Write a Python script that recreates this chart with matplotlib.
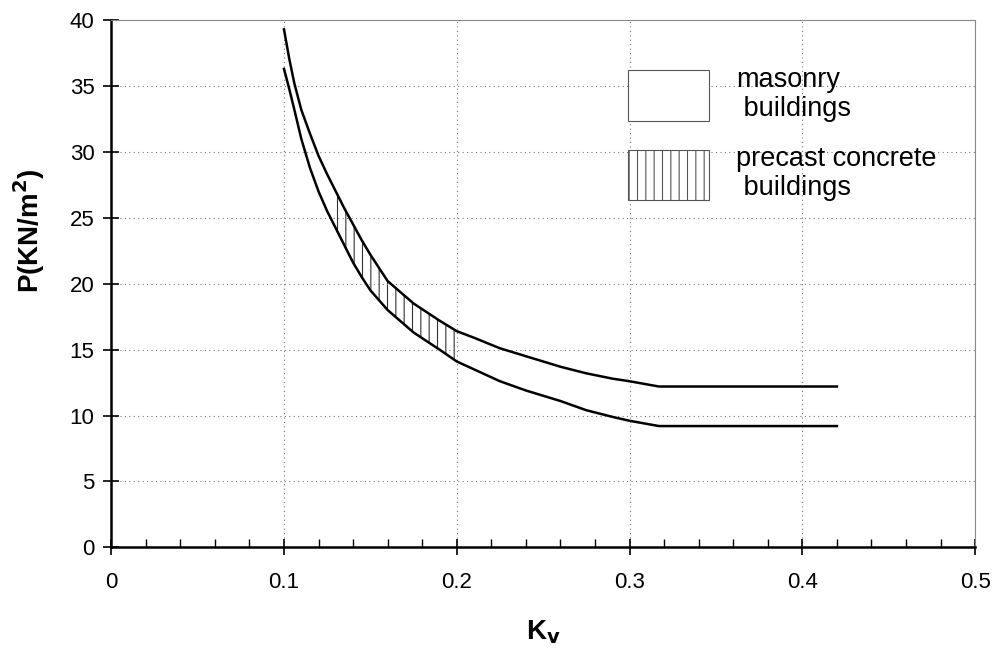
import numpy as np
import matplotlib
matplotlib.use("Agg")
import matplotlib.pyplot as plt
from matplotlib.patches import Patch
from matplotlib.ticker import MultipleLocator

plt.rcParams['font.family'] = ['Liberation Sans', 'DejaVu Sans']
plt.rcParams['hatch.linewidth'] = 0.8

# values
kv = [0.1, 0.103, 0.106, 0.108, 0.11, 0.115, 0.12, 0.125, 0.13, 0.135, 0.14, 0.145,
      0.15, 0.16, 0.175, 0.19, 0.2, 0.21, 0.225, 0.24, 0.25, 0.26, 0.275, 0.29,
      0.3, 0.317, 0.42]
p_upper = [39.3, 37.1, 35.2, 34.2, 33.2, 31.4, 29.7, 28.3, 27.0, 25.7, 24.5, 23.3,
           22.2, 20.2, 18.5, 17.2, 16.4, 15.9, 15.1, 14.5, 14.1, 13.7, 13.2, 12.8,
           12.6, 12.2, 12.2]
p_lower = [36.3, 34.8, 33.2, 32.1, 31.0, 28.8, 27.0, 25.5, 24.2, 22.9, 21.6, 20.5,
           19.5, 18.0, 16.3, 15.0, 14.1, 13.5, 12.6, 11.9, 11.5, 11.1, 10.4, 9.9,
           9.6, 9.2, 9.2]
precast_range = (0.13, 0.2)

labels = ["masonry\n buildings", "precast concrete\n buildings"]

fig = plt.figure(figsize=(9.93, 6.5), dpi=100)
ax = fig.add_axes([0.112, 0.158, 0.87, 0.811])

x = np.array(kv)
ax.plot(x, p_upper, color='black', lw=1.8)
ax.plot(x, p_lower, color='black', lw=1.8)
mask = (x >= precast_range[0]) & (x <= precast_range[1])
ax.fill_between(x, p_lower, p_upper, where=mask,
                facecolor='none', edgecolor='#333333', hatch='||', lw=0)

ax.set_xlim(0, 0.5)
ax.set_ylim(0, 40)
ax.set_xticks(np.arange(0, 0.51, 0.1))
ax.set_xticklabels(['0', '0.1', '0.2', '0.3', '0.4', '0.5'])
ax.xaxis.set_minor_locator(MultipleLocator(0.02))
ax.yaxis.set_major_locator(MultipleLocator(5))

ax.grid(True, which='major', color='#777777', ls=(0, (1, 3)), lw=0.8)
ax.tick_params(axis='x', which='major', direction='inout', length=12, width=1.2,
               labelsize=16, pad=12)
ax.tick_params(axis='x', which='minor', direction='in', length=6, width=1)
ax.tick_params(axis='y', which='major', direction='inout', length=12, width=1.2,
               labelsize=16, pad=6)

for s in ['left', 'bottom']:
    ax.spines[s].set_linewidth(1.8)
for s in ['top', 'right']:
    ax.spines[s].set_color('#888888')
    ax.spines[s].set_linewidth(0.8)

ax.set_xlabel('K$_\\mathbf{v}$', fontsize=20, fontweight='bold', labelpad=18)
ax.set_ylabel('P(KN/m$^\\mathbf{2}$)', fontsize=20, fontweight='bold')
ax.yaxis.set_label_coords(-0.074, 0.6)

handles = [Patch(facecolor='white', edgecolor='#555555', lw=0.8),
           Patch(facecolor='white', edgecolor='#555555', lw=0.8, hatch='||')]
leg = ax.legend(handles, labels, loc='upper left', bbox_to_anchor=(0.598, 0.912),
                frameon=False, fontsize=19.5, handlelength=3.0, handleheight=2.5,
                handletextpad=1.0, labelspacing=0.9, borderpad=0, borderaxespad=0)
for t in leg.get_texts():
    t.set_linespacing(1.15)

fig.savefig('out.png', dpi=100)
